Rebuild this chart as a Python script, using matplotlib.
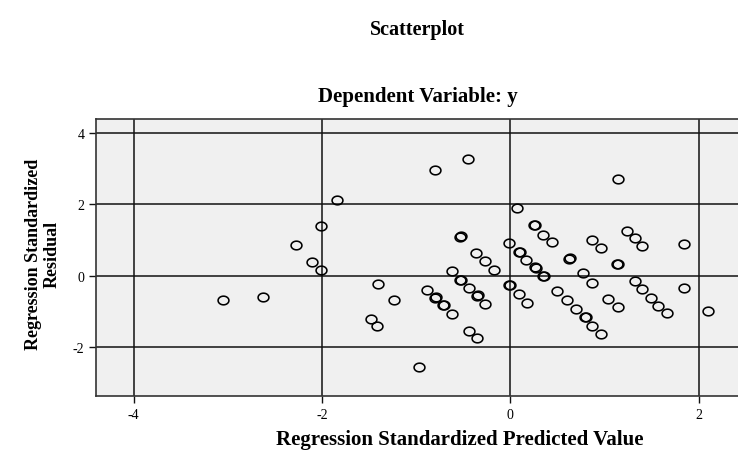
"""
SPSS-style residual scatterplot: standardized residual vs standardized predicted value.
Writes out.png
"""
import numpy as np
import matplotlib
matplotlib.use("Agg")  # headless
import matplotlib.pyplot as plt
from matplotlib.path import Path

plt.rcParams["axes.unicode_minus"] = False  # SPSS prints a plain hyphen

# values (overlapping / bold circles listed twice)
pred_x = [
    -1.84, -2.01, -2.27, -2.10, -2.01, -3.05, -2.63, -0.80, -0.45, 0.07,
    0.25, 0.26, 0.35, 0.44, -0.01, -0.53, -0.52, 0.09, 0.10, 0.17,
    0.26, 0.27, 0.35, 0.36, -0.36, -0.27, -0.17, -0.62, -0.53, -0.52,
    -0.44, -0.35, -0.34, -0.27, -0.01, 0.00, 0.09, 0.18, 1.14, 0.87,
    0.96, 1.24, 1.32, 1.40, 1.84, 0.62, 0.63, 0.77, 0.87, 1.13,
    1.14, -1.40, -1.23, -0.88, -0.80, -0.79, -0.71, -0.70, -0.62, -1.48,
    -1.41, -0.44, -0.35, -0.97, 0.50, 0.60, 0.70, 0.79, 0.80, 0.87,
    0.96, 1.04, 1.14, 1.32, 1.40, 1.49, 1.57, 1.66, 1.84, 2.10,
]
resid_y = [
    2.11, 1.38, 0.86, 0.39, 0.17, -0.68, -0.61, 2.97, 3.27, 1.90,
    1.42, 1.43, 1.15, 0.94, 0.92, 1.09, 1.10, 0.66, 0.67, 0.43,
    0.23, 0.22, -0.02, -0.01, 0.64, 0.40, 0.16, 0.12, -0.13, -0.12,
    -0.35, -0.56, -0.55, -0.78, -0.27, -0.26, -0.52, -0.76, 2.70, 0.99,
    0.78, 1.26, 1.05, 0.83, 0.88, 0.48, 0.49, 0.08, -0.21, 0.32,
    0.33, -0.23, -0.67, -0.40, -0.62, -0.61, -0.82, -0.81, -1.08, -1.21,
    -1.40, -1.54, -1.75, -2.55, -0.44, -0.69, -0.93, -1.17, -1.16, -1.40,
    -1.63, -0.64, -0.89, -0.15, -0.37, -0.62, -0.84, -1.05, -0.35, -1.00,
]

x_ticks = [-4, -2, 0, 2]
y_ticks = [-2, 0, 2, 4]

SERIF = ["Liberation Serif", "DejaVu Serif"]

# slightly flattened circle, like the SPSS marker
t = np.linspace(0, 2 * np.pi, 40)
ellipse = Path(np.column_stack([np.cos(t), 0.8 * np.sin(t)]), closed=True)

fig = plt.figure(figsize=(7.38, 4.52), dpi=100)
ax = fig.add_axes([0.1305, 0.1217, 0.8695, 0.6128])
ax.set_facecolor("#f0f0f0")

ax.set_xlim(-4.395, 2.417)
ax.set_ylim(-3.37, 4.39)
ax.set_xticks(x_ticks)
ax.set_yticks(y_ticks)
ax.grid(True, color="#111111", lw=1.1)
ax.set_axisbelow(True)

ax.plot(pred_x, resid_y, ls="none", marker=ellipse, ms=7.8,
        mfc="none", mec="black", mew=1.15)

for side in ["left", "top", "bottom"]:
    ax.spines[side].set_color("#333333")
    ax.spines[side].set_linewidth(1.2)
ax.spines["right"].set_visible(False)

ax.tick_params(direction="out", length=5, width=1.0, color="#111111",
               labelsize=10)
for lab in ax.get_xticklabels() + ax.get_yticklabels():
    lab.set_family(SERIF)

fig.text(0.566, 0.934, "Scatterplot", ha="center", va="center",
         family=SERIF, weight="bold", fontsize=14.5)
fig.text(0.566, 0.786, "Dependent Variable: y", ha="center", va="center",
         family=SERIF, weight="bold", fontsize=15)
fig.text(0.623, 0.026, "Regression Standardized Predicted Value",
         ha="center", va="center", family=SERIF, weight="bold", fontsize=15)
fig.text(0.058, 0.437, "Regression Standardized\nResidual", ha="center",
         va="center", rotation=90, family=SERIF, weight="bold", fontsize=13,
         linespacing=1.1)

fig.savefig("out.png", dpi=100)
